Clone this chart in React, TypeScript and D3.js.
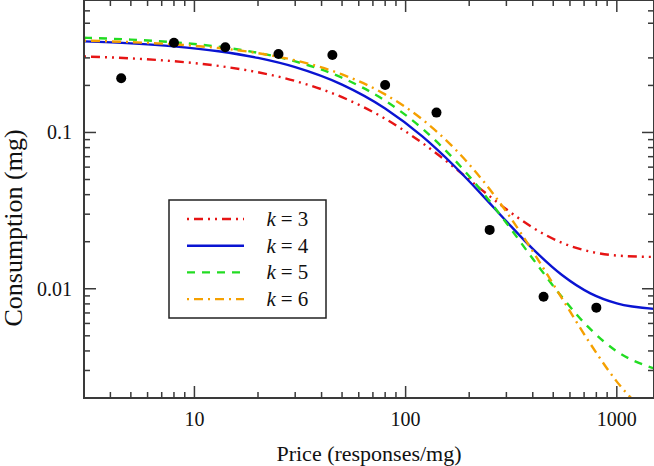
import React from "react";
import * as d3 from "d3";

// ---- data ----
const curvePrices = [3, 5, 8, 13, 20, 30, 50, 80, 120, 170, 230, 300, 400, 550, 750, 1000, 1500];
const seriesK3 = [0.3065, 0.2979, 0.2856, 0.2666, 0.2428, 0.2136, 0.1682, 0.1224, 0.0856, 0.0597, 0.0428, 0.03226, 0.02462, 0.01968, 0.01727, 0.01632, 0.01597];
const seriesK4 = [0.3826, 0.3715, 0.3556, 0.3309, 0.2999, 0.2618, 0.2024, 0.1424, 0.0943, 0.061, 0.0399, 0.027, 0.01799, 0.01224, 0.00934, 0.00806, 0.00744];
const seriesK5 = [0.4035, 0.3929, 0.3776, 0.3537, 0.3233, 0.2851, 0.2239, 0.1596, 0.1058, 0.0671, 0.04185, 0.02636, 0.01557, 0.00885, 0.00551, 0.003975, 0.003092];
const seriesK6 = [0.3869, 0.3785, 0.3662, 0.3468, 0.3217, 0.2893, 0.2354, 0.1752, 0.1211, 0.0792, 0.05, 0.03106, 0.01736, 0.00868, 0.004437, 0.002546, 0.001441];

const obsPrice = [4.5, 8, 14, 25, 45, 80, 140, 250, 450, 800];
const obsConsumption = [0.222, 0.375, 0.351, 0.318, 0.313, 0.2015, 0.134, 0.0238, 0.0089, 0.00757];

const seriesNames = ["3", "4", "5", "6"];
const xMajorTicks = [10, 100, 1000];
const xMajorLabels = ["10", "100", "1000"];
const xMinorTicks = [4, 5, 6, 7, 8, 9, 20, 30, 40, 50, 60, 70, 80, 90, 200, 300, 400, 500, 600, 700, 800, 900];
const yMajorTicks = [0.01, 0.1];
const yMajorLabels = ["0.01", "0.1"];
const yMinorTicks = [0.003, 0.004, 0.005, 0.006, 0.007, 0.008, 0.009, 0.02, 0.03, 0.04, 0.05, 0.06, 0.07, 0.08, 0.09, 0.2, 0.3, 0.5, 0.6];

const xTitle = "Price (responses/mg)";
const yTitle = "Consumption (mg)";

// ---- styles ----
const W = 654;
const H = 466;
const left = 84;
const right = 654;
const top = 0;
const bottom = 398;
const styles = [
  { color: "#e61414", dash: "2,5,9,5,2,5" },
  { color: "#0a14d2", dash: "none" },
  { color: "#22dc22", dash: "8,7" },
  { color: "#f5a000", dash: "2,5,9,5" },
];
const font = "'Liberation Serif', 'Times New Roman', serif";

export default function App() {
  const x = d3.scaleLog().domain([3, 1500]).range([left, right]);
  const y = d3.scaleLog().domain([0.002, 0.704]).range([bottom, top]);
  const allSeries = [seriesK3, seriesK4, seriesK5, seriesK6];
  const line = d3
    .line<[number, number]>()
    .x((d) => x(d[0]))
    .y((d) => y(d[1]))
    .curve(d3.curveMonotoneX);

  const frameColor = "#3a3a3a";
  const legendX = 169;
  const legendY = 200;
  const legendW = 157;
  const legendH = 118;

  return (
    <svg
      width={W}
      height={H}
      style={{ position: "absolute", left: 0, top: 0, background: "#fff" }}
      fontFamily={font}
    >
      <defs>
        <clipPath id="plotClip">
          <rect x={left} y={top} width={right - left} height={bottom - top} />
        </clipPath>
      </defs>
      <rect x={0} y={0} width={W} height={H} fill="#fff" />

      {/* curves */}
      <g clipPath="url(#plotClip)">
        {allSeries.map((s, i) => (
          <path
            key={i}
            d={line(curvePrices.map((p, j) => [p, s[j]] as [number, number])) || ""}
            fill="none"
            stroke={styles[i].color}
            strokeWidth={2.4}
            strokeDasharray={styles[i].dash}
          />
        ))}
        {obsPrice.map((p, i) => (
          <circle key={i} cx={x(p)} cy={y(obsConsumption[i])} r={5} fill="#000" />
        ))}
      </g>

      {/* frame */}
      <rect x={left} y={top} width={right - left} height={bottom - top} fill="none" stroke={frameColor} strokeWidth={2} />

      {/* x ticks (bottom and top) */}
      {xMajorTicks.map((t) => (
        <g key={"xM" + t}>
          <line x1={x(t)} x2={x(t)} y1={bottom} y2={bottom - 12} stroke={frameColor} strokeWidth={1.5} />
          <line x1={x(t)} x2={x(t)} y1={top} y2={top + 12} stroke={frameColor} strokeWidth={1.5} />
        </g>
      ))}
      {xMinorTicks.map((t) => (
        <g key={"xm" + t}>
          <line x1={x(t)} x2={x(t)} y1={bottom} y2={bottom - 6} stroke={frameColor} strokeWidth={1.5} />
          <line x1={x(t)} x2={x(t)} y1={top} y2={top + 6} stroke={frameColor} strokeWidth={1.5} />
        </g>
      ))}
      {xMajorTicks.map((t, i) => (
        <text key={"xl" + t} x={x(t)} y={425.5} fontSize={20} textAnchor="middle" fill="#111">
          {xMajorLabels[i]}
        </text>
      ))}

      {/* y ticks (left and right) */}
      {yMajorTicks.map((t) => (
        <g key={"yM" + t}>
          <line x1={left} x2={left + 12} y1={y(t)} y2={y(t)} stroke={frameColor} strokeWidth={1.5} />
          <line x1={right} x2={right - 12} y1={y(t)} y2={y(t)} stroke={frameColor} strokeWidth={1.5} />
        </g>
      ))}
      {yMinorTicks.map((t) => (
        <g key={"ym" + t}>
          <line x1={left} x2={left + 6} y1={y(t)} y2={y(t)} stroke={frameColor} strokeWidth={1.5} />
          <line x1={right} x2={right - 6} y1={y(t)} y2={y(t)} stroke={frameColor} strokeWidth={1.5} />
        </g>
      ))}
      {yMajorLabels.map((lab, i) => (
        <text key={"yl" + lab} x={72} y={y(yMajorTicks[i]) + 7} fontSize={20} textAnchor="end" fill="#111">
          {lab}
        </text>
      ))}

      {/* axis titles */}
      <text x={(left + right) / 2} y={461} fontSize={22} textAnchor="middle" fill="#111">
        {xTitle}
      </text>
      <text
        transform={`translate(22, 228) rotate(-90)`}
        fontSize={26}
        textAnchor="middle"
        fill="#111"
      >
        {yTitle}
      </text>

      {/* legend */}
      <rect x={legendX} y={legendY} width={legendW} height={legendH} fill="#fff" stroke="#222" strokeWidth={1.5} />
      {seriesNames.map((n, i) => {
        const ly = 219 + i * 26.7;
        return (
          <g key={"lg" + n}>
            <line
              x1={187}
              x2={244}
              y1={ly}
              y2={ly}
              stroke={styles[i].color}
              strokeWidth={2.4}
              strokeDasharray={styles[i].dash}
            />
            <text x={266.5} y={ly + 7} fontSize={21} fill="#111">
              <tspan fontStyle="italic">k</tspan>
              <tspan dx={5}>=</tspan>
              <tspan dx={5}>{n}</tspan>
            </text>
          </g>
        );
      })}
    </svg>
  );
}
